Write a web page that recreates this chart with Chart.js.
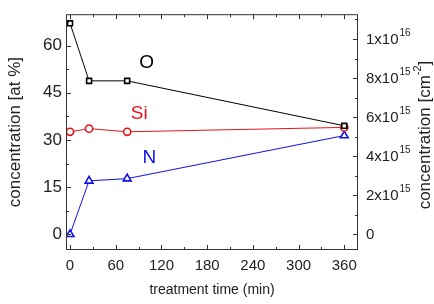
<!DOCTYPE html>
<html>
<head>
<meta charset="utf-8">
<script src="https://cdn.jsdelivr.net/npm/chart.js@4.4.1/dist/chart.umd.min.js"></script>
<style>
  html, body { margin: 0; padding: 0; background: #fff; }
  canvas { display: block; }
</style>
</head>
<body>
<canvas id="myChart" width="434" height="304"></canvas>
<script>
// treatment time (min)
const times = [0, 25, 75, 360];
// concentrations (at %)
const oxygen = [67.1, 48.8, 48.8, 34.5];
const silicon = [32.6, 33.6, 32.6, 34.0];
const nitrogen = [0, 17.0, 17.7, 31.4];

const xTicks = [0, 60, 120, 180, 240, 300, 360];
const leftTicks = [0, 15, 30, 45, 60];
// right axis in units of 1e15 cm^-2
const rightTicks = [0, 2, 4, 6, 8, 10];
const rightLabels = [["0", ""], ["2x10", "15"], ["4x10", "15"], ["6x10", "15"], ["8x10", "15"], ["1x10", "16"]];

const FONT = "'Liberation Sans', Arial, sans-serif";
const perPercent = 0.161; // 1 at% in 1e15 cm^-2

function pts(ys) {
  return times.map((t, i) => ({x: t, y: ys[i]}));
}

// inward ticks, frame, right axis labels and series names
const decor = {
  id: 'decor',
  afterDraw(chart) {
    const ctx = chart.ctx;
    const a = chart.chartArea;
    const sx = chart.scales.x, sy = chart.scales.y, sy2 = chart.scales.y2;
    ctx.save();
    ctx.strokeStyle = '#333';
    ctx.lineWidth = 1;
    ctx.strokeRect(a.left + 0.5, a.top + 0.5, a.right - a.left - 1, a.bottom - a.top - 1);

    ctx.beginPath();
    for (let v = 0; v <= 360; v += 30) {
      const px = Math.round(sx.getPixelForValue(v)) + 0.5;
      const len = v % 60 === 0 ? 5 : 3;
      ctx.moveTo(px, a.bottom); ctx.lineTo(px, a.bottom - len);
      ctx.moveTo(px, a.top); ctx.lineTo(px, a.top + len);
    }
    for (let v = 0; v <= 67.5; v += 7.5) {
      const py = Math.round(sy.getPixelForValue(v)) + 0.5;
      const len = v % 15 === 0 ? 5 : 3;
      ctx.moveTo(a.left, py); ctx.lineTo(a.left + len, py);
    }
    for (let v = 0; v <= 11; v += 1) {
      const py = Math.round(sy2.getPixelForValue(v)) + 0.5;
      const len = v % 2 === 0 ? 5 : 3;
      ctx.moveTo(a.right, py); ctx.lineTo(a.right - len, py);
    }
    ctx.stroke();

    // right tick labels with exponents
    ctx.fillStyle = '#222';
    ctx.textBaseline = 'middle';
    ctx.textAlign = 'left';
    rightTicks.forEach((v, i) => {
      const py = sy2.getPixelForValue(v);
      const [base, sup] = rightLabels[i];
      ctx.font = '15px ' + FONT;
      ctx.fillText(base, a.right + 8, py + 1);
      const w = ctx.measureText(base).width;
      ctx.font = '10px ' + FONT;
      ctx.fillText(sup, a.right + 8 + w + 1, py - 6);
    });

    // right axis title, reading bottom to top
    ctx.save();
    ctx.translate(425, 135);
    ctx.rotate(-Math.PI / 2);
    ctx.font = '17px ' + FONT;
    const t1 = 'concentration [cm';
    const w1 = ctx.measureText(t1).width;
    ctx.font = '11px ' + FONT;
    const w2 = ctx.measureText('-2').width;
    ctx.font = '17px ' + FONT;
    const w3 = ctx.measureText(']').width;
    let x0 = -(w1 + w2 + w3) / 2;
    ctx.fillText(t1, x0, 0);
    ctx.font = '11px ' + FONT;
    ctx.fillText('-2', x0 + w1, -7);
    ctx.font = '17px ' + FONT;
    ctx.fillText(']', x0 + w1 + w2, 0);
    ctx.restore();

    // series names
    ctx.textAlign = 'center';
    ctx.font = '19px ' + FONT;
    [['O', 100.5, 54.4, '#000'], ['Si', 90.8, 38.4, '#e8141b'], ['N', 104, 24.4, '#1010e8']].forEach(l => {
      ctx.fillStyle = l[3];
      ctx.fillText(l[0], sx.getPixelForValue(l[1]), sy.getPixelForValue(l[2]));
    });
    ctx.restore();
  }
};

const chart = new Chart(document.getElementById('myChart'), {
  type: 'line',
  data: {
    datasets: [
      {
        label: 'O',
        data: pts(oxygen),
        borderColor: '#000',
        backgroundColor: '#fff',
        borderWidth: 1,
        pointStyle: 'rect',
        pointRadius: 3.5,
        pointBorderWidth: 1.6,
        pointBorderColor: '#000'
      },
      {
        label: 'Si',
        data: pts(silicon),
        borderColor: '#e8141b',
        backgroundColor: '#fff',
        borderWidth: 1,
        pointStyle: 'circle',
        pointRadius: 3.6,
        pointBorderWidth: 1.6,
        pointBorderColor: '#e8141b'
      },
      {
        label: 'N',
        data: pts(nitrogen),
        borderColor: '#1010e8',
        backgroundColor: '#fff',
        borderWidth: 1,
        pointStyle: 'triangle',
        pointRadius: 4.5,
        pointBorderWidth: 1.6,
        pointBorderColor: '#1010e8'
      }
    ]
  },
  options: {
    responsive: false,
    animation: false,
    layout: { padding: { top: 8, left: 0, right: 0, bottom: 0 } },
    plugins: { legend: { display: false }, tooltip: { enabled: false } },
    scales: {
      x: {
        type: 'linear',
        min: -5.3,
        max: 378,
        afterBuildTicks: s => { s.ticks = xTicks.map(v => ({value: v})); },
        afterFit: s => { s.height = 54; },
        grid: { display: false, drawTicks: false },
        border: { display: false },
        ticks: { font: { family: FONT, size: 15 }, color: '#222', padding: 7, maxRotation: 0 },
        title: { display: true, text: 'treatment time (min)', font: { family: FONT, size: 14 }, color: '#222', padding: { top: 0, bottom: 5 } }
      },
      y: {
        min: -5,
        max: 70,
        afterBuildTicks: s => { s.ticks = leftTicks.map(v => ({value: v})); },
        afterFit: s => { s.width = 66; },
        grid: { display: false, drawTicks: false },
        border: { display: false },
        ticks: { font: { family: FONT, size: 17 }, color: '#222', padding: 4 },
        title: { display: true, text: 'concentration [at %]', font: { family: FONT, size: 17 }, color: '#222', padding: { top: 5, bottom: 0 } }
      },
      y2: {
        position: 'right',
        min: -5 * perPercent,
        max: 70 * perPercent,
        afterBuildTicks: s => { s.ticks = rightTicks.map(v => ({value: v})); },
        afterFit: s => { s.width = 76; },
        grid: { display: false, drawTicks: false },
        border: { display: false },
        ticks: { display: false }
      }
    }
  },
  plugins: [decor]
});
</script>
</body>
</html>
